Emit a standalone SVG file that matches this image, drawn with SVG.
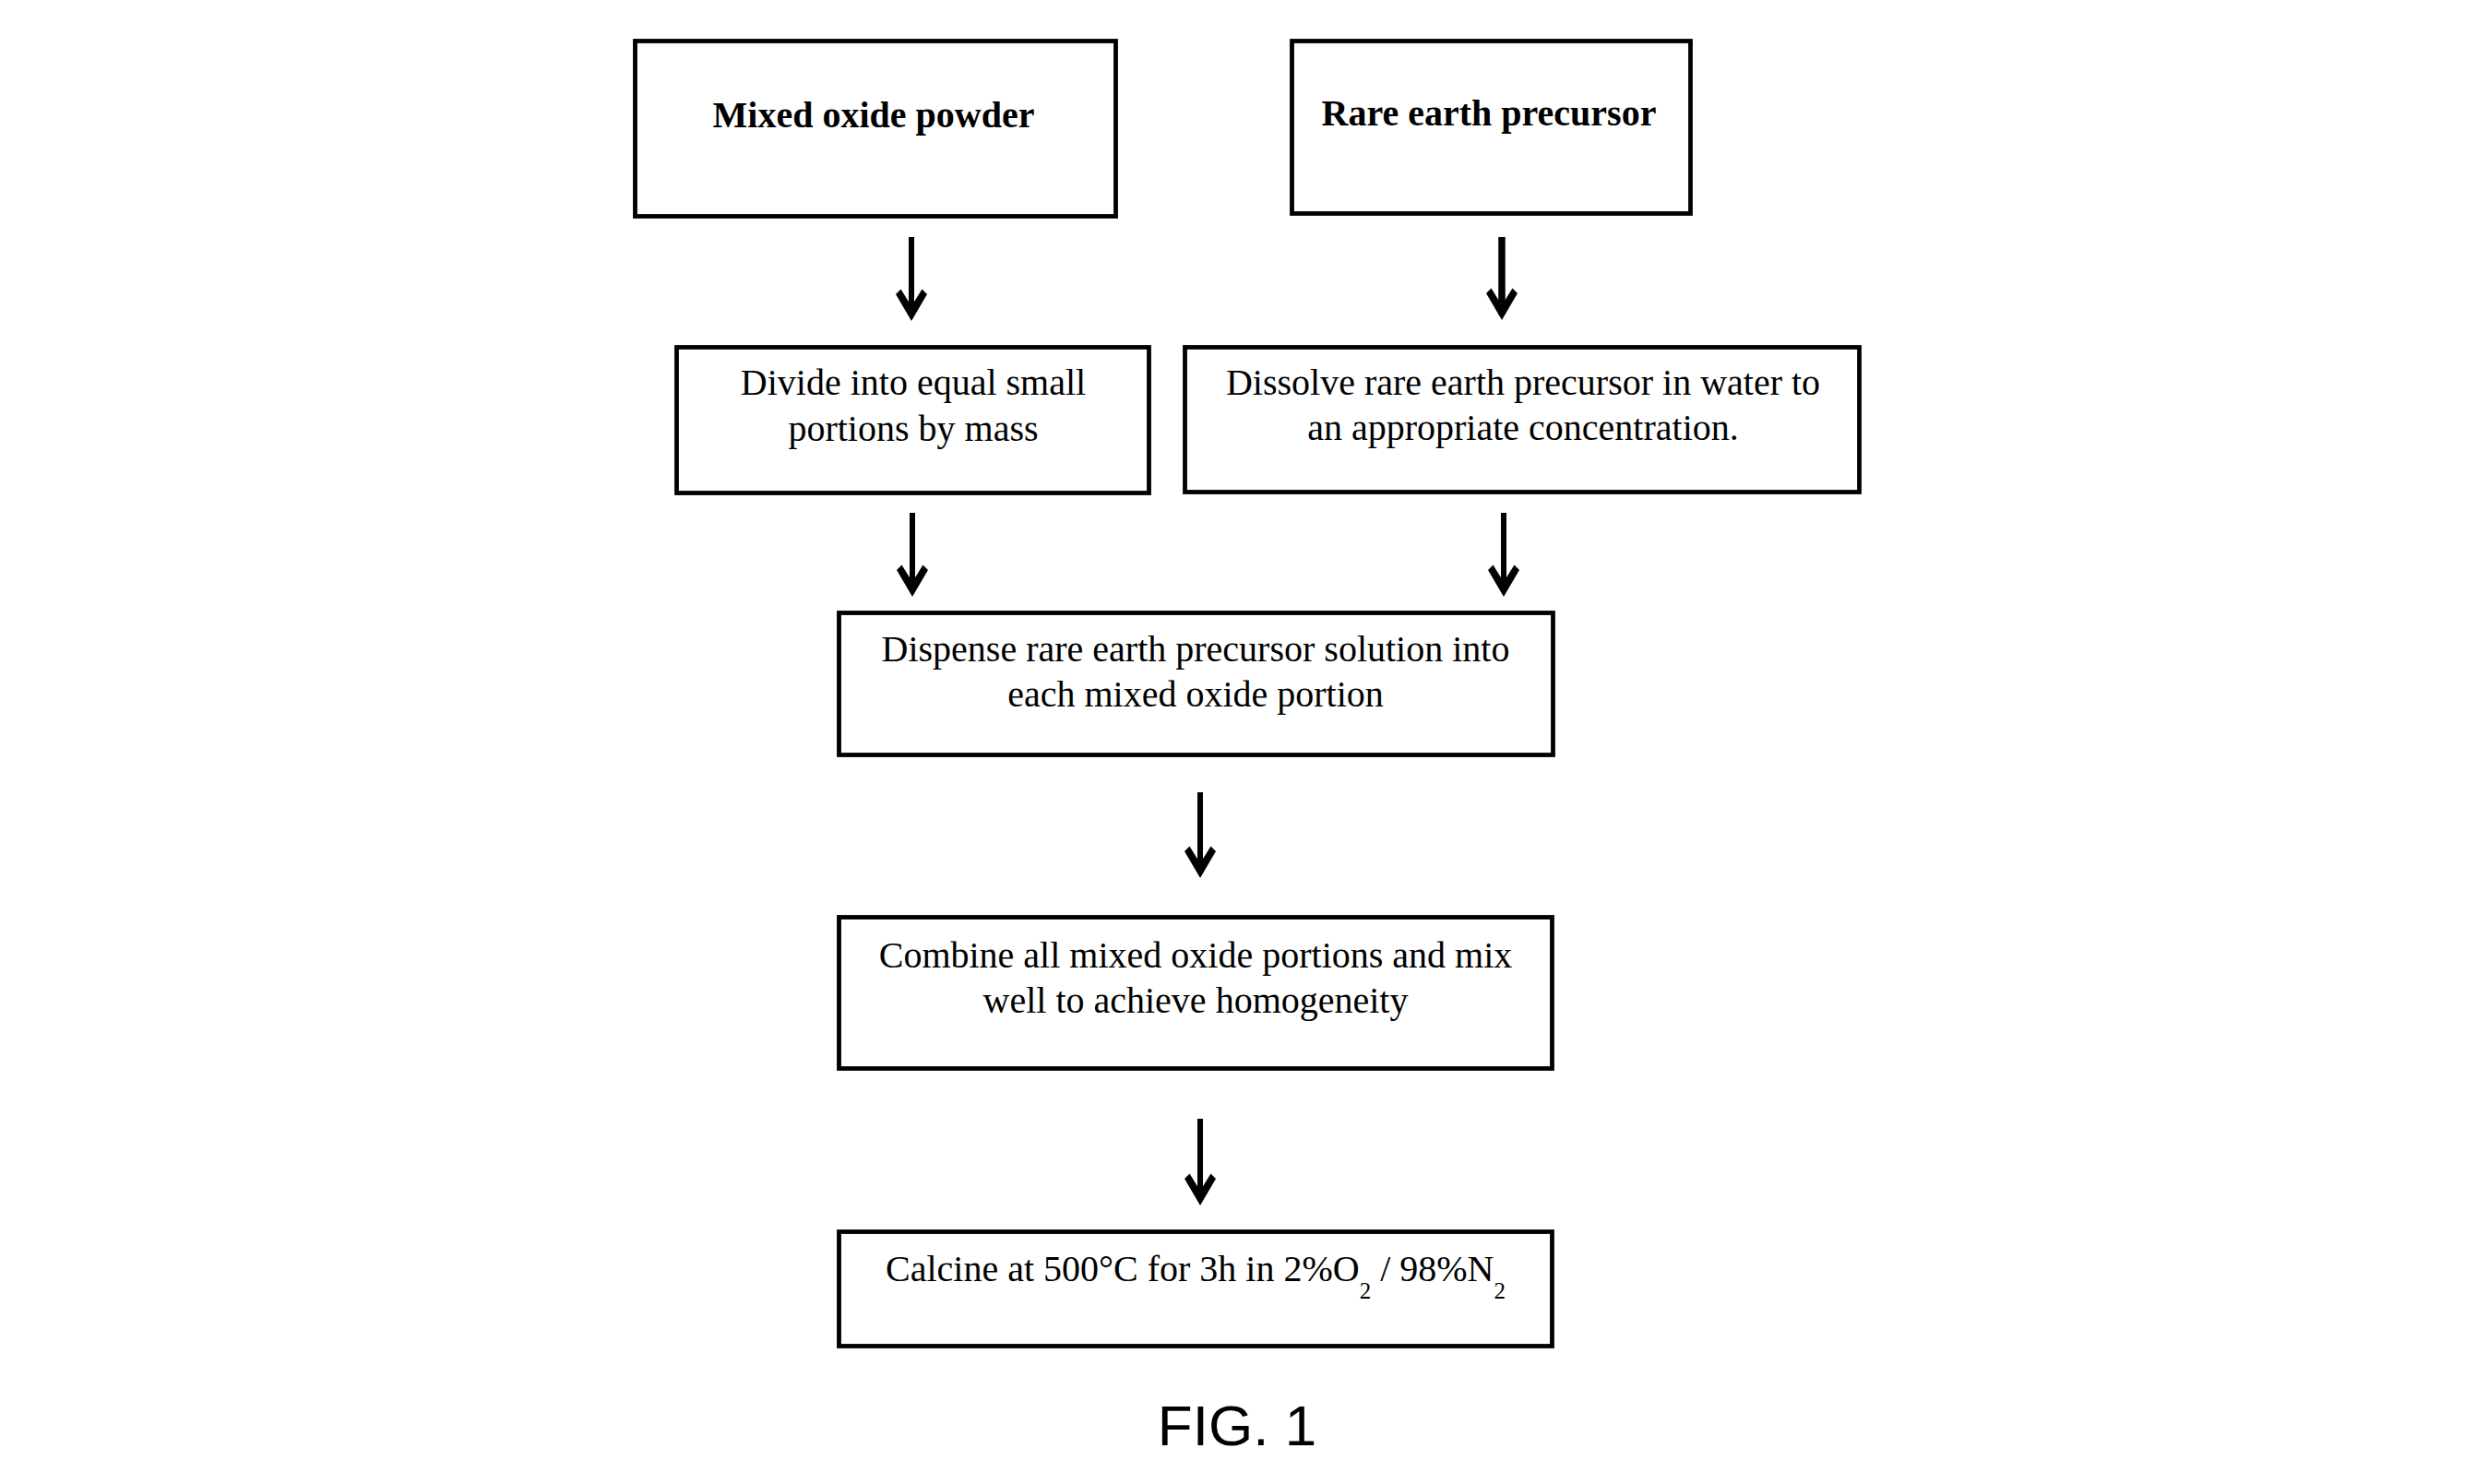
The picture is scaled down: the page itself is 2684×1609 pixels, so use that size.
<svg xmlns="http://www.w3.org/2000/svg" width="2684" height="1609" viewBox="0 0 2684 1609">
<style>
  .box { fill: #ffffff; stroke: #000000; stroke-width: 4.8; }
  .t { font-family: "Liberation Serif", "Times New Roman", serif; font-size: 40px; fill: #000; text-anchor: middle; }
  .b { font-weight: bold; }
  .sub { font-size: 25px; }
  .fig { font-family: "Liberation Sans", Arial, sans-serif; font-size: 62px; fill: #000; text-anchor: middle; }
  .conn line { stroke: #000; stroke-width: 6; marker-end: url(#head); }
</style>
<defs>
  <marker id="head" markerUnits="userSpaceOnUse" markerWidth="38" markerHeight="38" viewBox="0 0 38 38" refX="29" refY="19" orient="auto">
    <path d="M35,19 L6,36 L0.5,30.5 L19,19 L0.5,7.5 L6,2 Z" fill="#000"/>
  </marker>
</defs>
<rect width="2684" height="1609" fill="#ffffff"/>

<g id="node-mixed-oxide">
  <rect class="box" x="688.5" y="44.5" width="521" height="190"/>
  <text class="t b" x="947" y="138">Mixed oxide powder</text>
</g>
<g id="node-rare-earth">
  <rect class="box" x="1400.5" y="44.5" width="432" height="187"/>
  <text class="t b" x="1614" y="136">Rare earth precursor</text>
</g>
<g id="node-divide">
  <rect class="box" x="733.5" y="376.5" width="512" height="158"/>
  <text class="t" x="990" y="428">Divide into equal small</text>
  <text class="t" x="990" y="478">portions by mass</text>
</g>
<g id="node-dissolve">
  <rect class="box" x="1284.5" y="376.5" width="731" height="157"/>
  <text class="t" x="1651" y="428">Dissolve rare earth precursor in water to</text>
  <text class="t" x="1651" y="477">an appropriate concentration.</text>
</g>
<g id="node-dispense">
  <rect class="box" x="909.5" y="664.5" width="774" height="154"/>
  <text class="t" x="1296" y="717">Dispense rare earth precursor solution into</text>
  <text class="t" x="1296" y="766">each mixed oxide portion</text>
</g>
<g id="node-combine">
  <rect class="box" x="909.5" y="994.5" width="773" height="164"/>
  <text class="t" x="1296" y="1049">Combine all mixed oxide portions and mix</text>
  <text class="t" x="1296" y="1098">well to achieve homogeneity</text>
</g>
<g id="node-calcine">
  <rect class="box" x="909.5" y="1335.5" width="773" height="124"/>
  <text class="t" x="1296" y="1389">Calcine at 500°C for 3h in 2%O<tspan class="sub" dy="19">2</tspan><tspan dy="-19"> / 98%N</tspan><tspan class="sub" dy="19">2</tspan></text>
</g>

<g id="connectors" class="conn">
  <line x1="988" y1="257" x2="988" y2="342"/>
  <line x1="1628" y1="257" x2="1628" y2="341" style="stroke-width:7.5"/>
  <line x1="989" y1="556" x2="989" y2="641"/>
  <line x1="1630" y1="556" x2="1630" y2="641"/>
  <line x1="1301" y1="859" x2="1301" y2="946"/>
  <line x1="1301" y1="1213" x2="1301" y2="1301"/>
</g>

<text class="fig" x="1341" y="1567">FIG. 1</text>
</svg>
